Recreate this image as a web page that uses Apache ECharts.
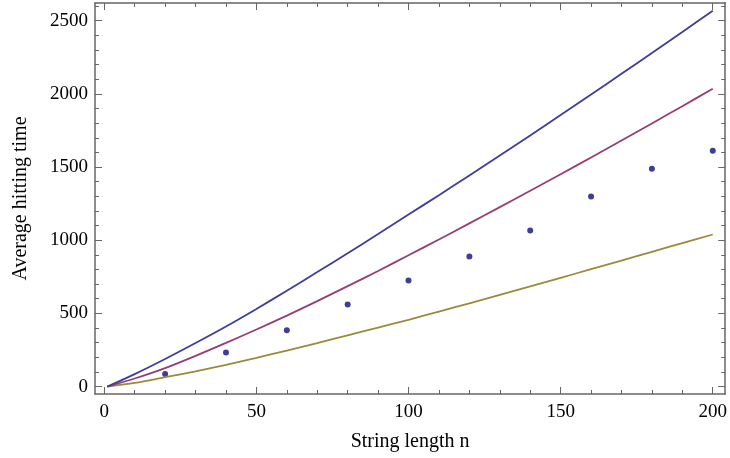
<!DOCTYPE html>
<html>
<head>
<meta charset="utf-8">
<script src="https://cdn.jsdelivr.net/npm/echarts@6/dist/echarts.min.js"></script>
<style>html,body{margin:0;padding:0;background:#fff}#c{width:730px;height:458px}</style>
</head>
<body>
<div id="c"></div>
<script>
// Curve sample points
var curveX = [1, 10, 20, 30, 40, 50, 60, 70, 80, 90, 100, 110, 120, 130, 140, 150, 160, 170, 180, 190, 200];
var blueY = [0, 85, 188, 297, 410, 530, 655, 782, 911, 1042, 1175, 1308, 1443, 1579, 1716, 1855, 1995, 2137, 2279, 2423, 2568];
var magentaY = [0, 55, 126, 210, 298, 390, 485, 584, 686, 790, 897, 1005, 1115, 1226, 1338, 1451, 1565, 1681, 1798, 1916, 2035];
var goldY = [0, 25, 64, 104, 148, 196, 246, 297, 350, 403, 456, 512, 569, 626, 684, 743, 802, 861, 921, 980, 1039];
// Scatter points
var pointX = [20, 40, 60, 80, 100, 120, 140, 160, 180, 200];
var pointY = [85, 232, 385, 560, 724, 888, 1066, 1298, 1489, 1612];
// Ticks
var xMajor = [0, 50, 100, 150, 200];
var xMinor = [10, 20, 30, 40, 60, 70, 80, 90, 110, 120, 130, 140, 160, 170, 180, 190];
var yMajor = [0, 500, 1000, 1500, 2000, 2500];
var yMinor = [100, 200, 300, 400, 600, 700, 800, 900, 1100, 1200, 1300, 1400, 1600, 1700, 1800, 1900, 2100, 2200, 2300, 2400, 2600];

function pairs(xs, ys) { return xs.map(function (x, i) { return [x, ys[i]]; }); }
function plain(v) { return String(v); }

var FONT = 'Liberation Serif';
var frameColor = '#666666';
var XMIN = -3.05, XMAX = 204.1, YMIN = -51, YMAX = 2621;

function xa(pos, ticks, len, showLine, labels, name) {
  return {
    type: 'value', position: pos, min: XMIN, max: XMAX,
    axisLine: { show: showLine, onZero: false, lineStyle: { color: frameColor, width: 1.5 } },
    axisTick: { show: true, inside: true, length: len, customValues: ticks, lineStyle: { color: frameColor, width: 1 } },
    axisLabel: labels ? { show: true, customValues: ticks, formatter: plain, margin: 9, fontFamily: FONT, fontSize: 19, color: '#000' } : { show: false },
    splitLine: { show: false },
    name: name || '', nameLocation: 'middle', nameGap: 38,
    nameTextStyle: { fontFamily: FONT, fontSize: 20, color: '#000' }
  };
}
function ya(pos, ticks, len, showLine, labels, name) {
  return {
    type: 'value', position: pos, min: YMIN, max: YMAX,
    axisLine: { show: showLine, onZero: false, lineStyle: { color: frameColor, width: 1.5 } },
    axisTick: { show: true, inside: true, length: len, customValues: ticks, lineStyle: { color: frameColor, width: 1 } },
    axisLabel: labels ? { show: true, customValues: ticks, formatter: plain, margin: 7, fontFamily: FONT, fontSize: 19, color: '#000' } : { show: false },
    splitLine: { show: false },
    name: name || '', nameLocation: 'middle', nameGap: 64, nameRotate: 90,
    nameTextStyle: { fontFamily: FONT, fontSize: 20, color: '#000' }
  };
}

var chart = echarts.init(document.getElementById('c'), null, { renderer: 'canvas' });
chart.setOption({
  animation: false,
  backgroundColor: '#fff',
  grid: { left: 95, right: 1, top: 3, bottom: 64, containLabel: false },
  xAxis: [
    xa('bottom', xMajor, 7, true, true, 'String length n'),
    xa('bottom', xMinor, 4, false, false),
    xa('top', xMajor, 7, true, false),
    xa('top', xMinor, 4, false, false)
  ],
  yAxis: [
    ya('left', yMajor, 7, true, true, 'Average hitting time'),
    ya('left', yMinor, 4, false, false),
    ya('right', yMajor, 7, true, false),
    ya('right', yMinor, 4, false, false)
  ],
  series: [
    { type: 'line', data: pairs(curveX, goldY), smooth: 0.3, showSymbol: false, lineStyle: { color: '#998b3d', width: 1.8 } },
    { type: 'line', data: pairs(curveX, magentaY), smooth: 0.3, showSymbol: false, lineStyle: { color: '#993d71', width: 1.8 } },
    { type: 'line', data: pairs(curveX, blueY), smooth: 0.3, showSymbol: false, lineStyle: { color: '#3f3d99', width: 1.8 } },
    { type: 'scatter', data: pairs(pointX, pointY), symbol: 'circle', symbolSize: 6, itemStyle: { color: '#3f3d99', opacity: 1 } }
  ]
});
</script>
</body>
</html>
